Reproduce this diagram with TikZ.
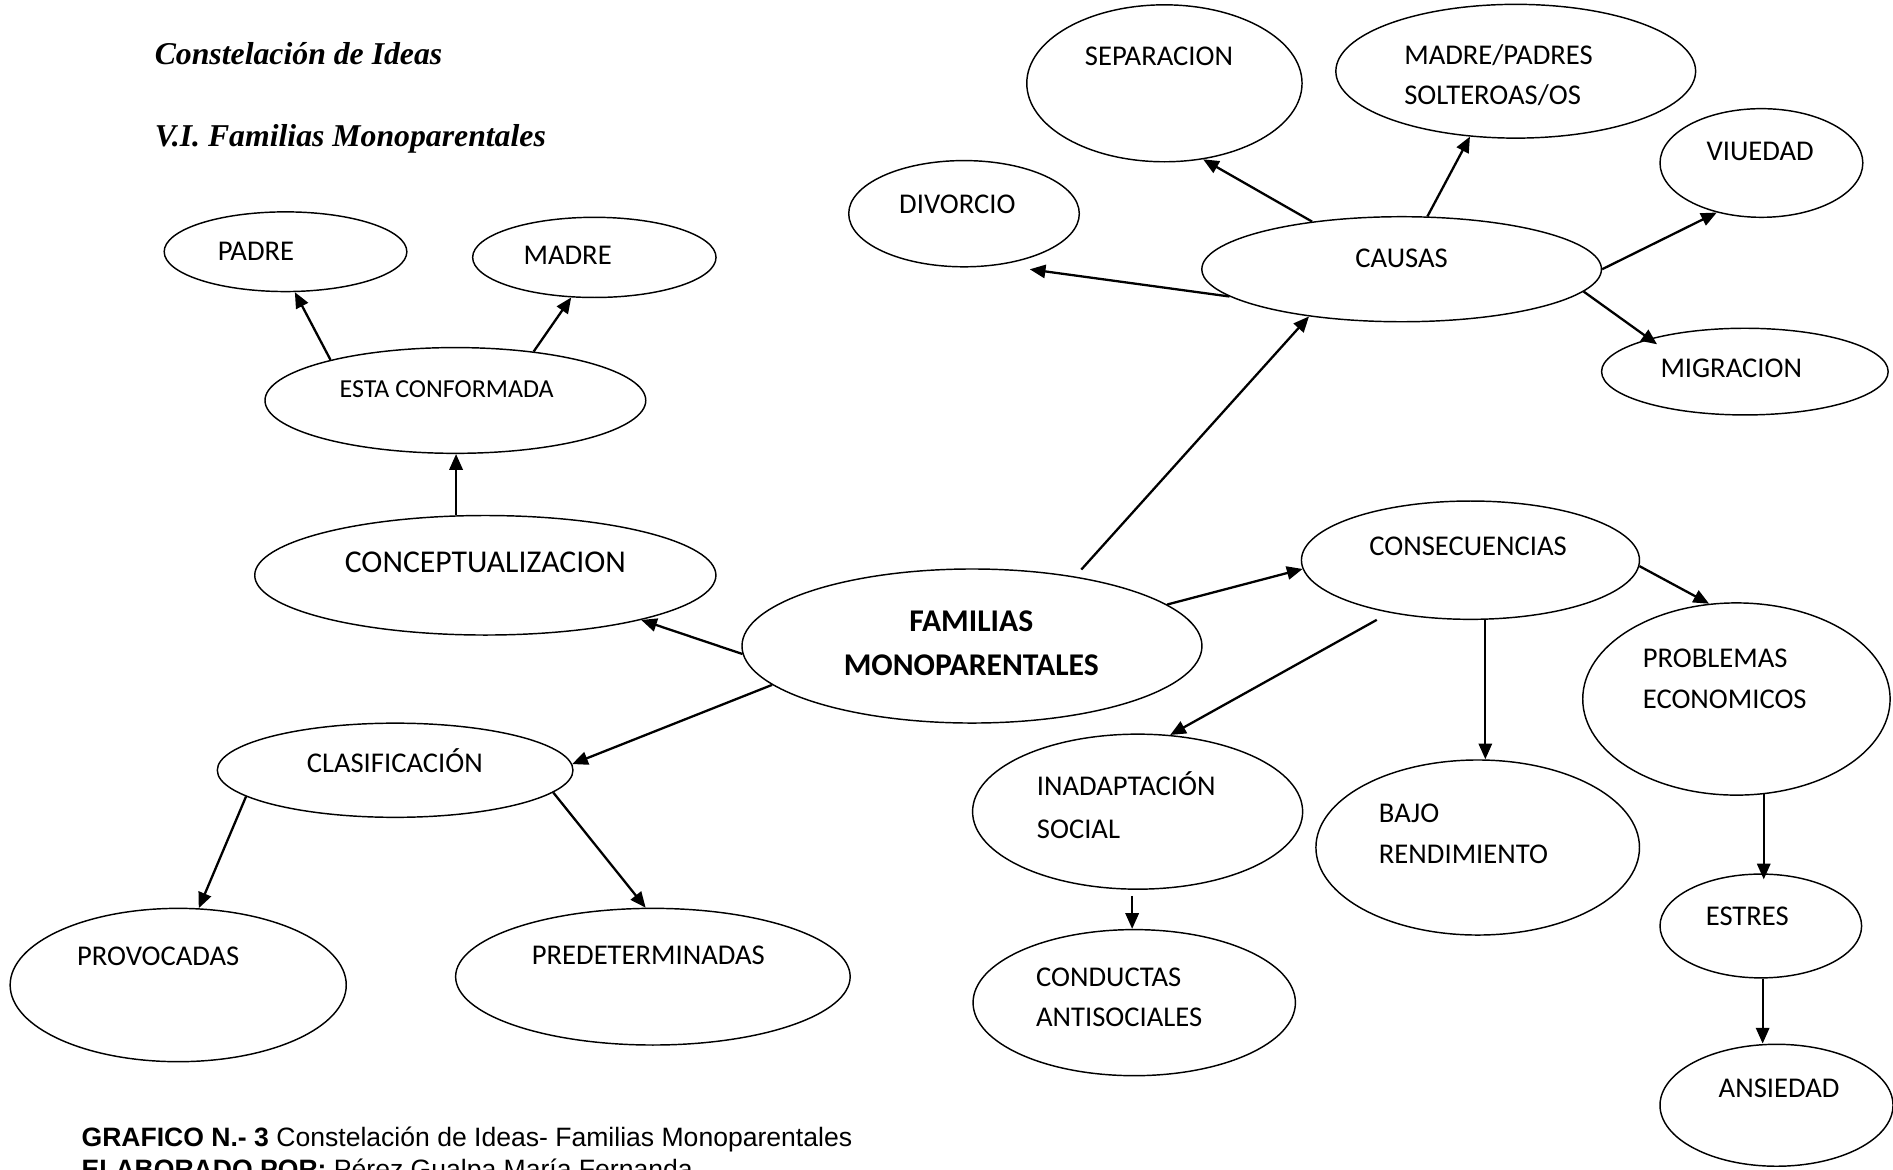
\documentclass[tikz,border=0pt]{standalone}
\usepackage{fontspec}
\setmainfont{Carlito}
\newfontfamily\titlefont{Liberation Serif}
\newfontfamily\capfont{Liberation Sans}
\usetikzlibrary{shapes.geometric,arrows.meta}
\begin{document}
\begin{tikzpicture}[x=1pt,y=-1pt,
  ell/.style={draw, ellipse, line width=1.2pt, inner sep=0pt},
  arr/.style={line width=1.9pt, -{Triangle[length=13pt,width=11pt]}},
  lbl/.style={inner sep=0pt, anchor=base, font=\fontsize{23.7}{34.5}\selectfont},
  lbll/.style={lbl, anchor=base west, align=left}]
\fill[white] (0,0) rectangle (1568,969);
\path[use as bounding box] (0,0) rectangle (1568,969);

% titles
\node[anchor=base west, inner sep=0pt, font=\titlefont\bfseries\itshape\fontsize{26.3}{30}\selectfont] (title1) at (128,53.5) {Constelación de Ideas};
\node[anchor=base west, inner sep=0pt, font=\titlefont\bfseries\itshape\fontsize{26.3}{30}\selectfont] (title2) at (128,121) {V.I. Familias Monoparentales};

% ellipses
\node[ell, minimum width=228pt, minimum height=130pt] (sep) at (964.5,69) {};
\node[ell, minimum width=298pt, minimum height=110.8pt] (mp) at (1255.5,59) {};
\node[ell, minimum width=168pt, minimum height=90pt] (viu) at (1459,135) {};
\node[ell, minimum width=191pt, minimum height=88pt] (div) at (798.5,177) {};
\node[ell, minimum width=331pt, minimum height=87pt] (causas) at (1161,223) {};
\node[ell, minimum width=237.4pt, minimum height=71.8pt] (mig) at (1445.3,307.8) {};
\node[ell, minimum width=201pt, minimum height=66pt] (padre) at (236.5,208.5) {};
\node[ell, minimum width=201.6pt, minimum height=66.4pt] (madre) at (492.3,213.2) {};
\node[ell, minimum width=315.4pt, minimum height=87.6pt] (esta) at (377.2,331.7) {};
\node[ell, minimum width=382pt, minimum height=99pt] (concept) at (402,476.5) {};
\node[ell, minimum width=381pt, minimum height=127.6pt] (fam) at (805.1,535.1) {};
\node[ell, minimum width=280pt, minimum height=98pt] (consec) at (1218,464) {};
\node[ell, minimum width=294.6pt, minimum height=78pt] (clasif) at (327.3,638) {};
\node[ell, minimum width=254.6pt, minimum height=159.2pt] (prob) at (1438.3,579) {};
\node[ell, minimum width=273.4pt, minimum height=128.4pt] (inad) at (942.3,672.3) {};
\node[ell, minimum width=268pt, minimum height=145pt] (bajo) at (1224,702) {};
\node[ell, minimum width=278.4pt, minimum height=127pt] (prov) at (147.6,815.9) {};
\node[ell, minimum width=326.8pt, minimum height=113.2pt] (pred) at (540.8,809) {};
\node[ell, minimum width=167pt, minimum height=86pt] (estres) at (1458.5,767) {};
\node[ell, minimum width=267pt, minimum height=121pt] (cond) at (939.5,830.5) {};
\node[ell, minimum width=193pt, minimum height=101pt] (ans) at (1471.5,915.5) {};

% labels (multi-line nodes: base = last line's baseline)
\node[lbl] (sepT) at (960,54.5) {SEPARACION};
\node[lbll, font=\fontsize{23.7}{33.1}\selectfont] (mpT) at (1163,86.2) {MADRE/PADRES\\SOLTEROAS/OS};
\node[lbl] (viuT) at (1458,133.1) {VIUEDAD};
\node[lbl] (divT) at (793,176.5) {DIVORCIO};
\node[lbl] (causasT) at (1161,221.5) {CAUSAS};
\node[lbl] (migT) at (1434,312.5) {MIGRACION};
\node[lbl] (padreT) at (212,215.5) {PADRE};
\node[lbl] (madreT) at (470.2,218.7) {MADRE};
\node[lbl, font=\fontsize{21.5}{26}\selectfont] (estaT) at (370,329.3) {ESTA CONFORMADA};
\node[lbl, font=\fontsize{26.3}{30}\selectfont] (conceptT) at (402,474.3) {CONCEPTUALIZACION};
\node[lbl, align=center, font=\bfseries\fontsize{26.2}{37.2}\selectfont] (famT) at (804.5,559.9) {FAMILIAS\\MONOPARENTALES};
\node[lbl] (consecT) at (1216,460.3) {CONSECUENCIAS};
\node[lbl] (clasifT) at (327,639.5) {CLASIFICACIÓN};
\node[lbll, font=\fontsize{23.7}{34.3}\selectfont] (probT) at (1360.6,587.1) {PROBLEMAS\\ECONOMICOS};
\node[lbll, font=\fontsize{23.7}{35.4}\selectfont] (inadT) at (858.7,694.5) {INADAPTACIÓN\\SOCIAL};
\node[lbll, font=\fontsize{23.7}{34}\selectfont] (bajoT) at (1142,715.5) {BAJO\\RENDIMIENTO};
\node[lbl] (provT) at (131,799.9) {PROVOCADAS};
\node[lbl] (predT) at (537,798.5) {PREDETERMINADAS};
\node[lbl] (estresT) at (1447.3,766.2) {ESTRES};
\node[lbll, font=\fontsize{23.7}{33}\selectfont] (condT) at (858,850.5) {CONDUCTAS\\ANTISOCIALES};
\node[lbl] (ansT) at (1473.6,909.1) {ANSIEDAD};

% arrows
\draw[arr] (causas.152) -- (sep.-63.5);
\draw[arr] (causas.64.9) -- (mp.-125.6);
\draw[arr] (causas.0) -- (viu.-132.7);
\draw[arr, shorten >=26pt] (causas.-171.9) -- (div.-56.75);
\draw[arr, shorten >=-8pt] (causas.-7.6) -- (mig.161.6);
\draw[arr, shorten <=7.7pt] (fam.34.7) -- (causas.-153.7);
\draw[arr] (esta.162) -- (padre.-77.7);
\draw[arr] (esta.32.9) -- (madre.-120.8);
\draw[arr] (concept.116.1) -- (concept.116.1 |- esta.south);
\draw[arr] (fam.-178.6) -- (concept.-16.4);
\draw[arr] (fam.12.4) -- (consec.-177.9);
\draw[arr] (fam.-169.25) -- (clasif.2.6);
\draw[arr] (consec.-2.9) -- (prob.106);
\draw[arr, shorten <=12pt] (consec.-147.3) -- (inad.67.75);
\draw[arr] (consec.-76.2) -- (consec.-76.2 |- bajo.north);
\draw[arr] (clasif.-170) -- (prov.75.1);
\draw[arr] (clasif.-8.57) -- (pred.96.7);
\draw[arr, shorten >=-5pt] (prob.-74.75) -- (prob.-74.75 |- estres.north);
\draw[arr, shorten <=5pt] (inad.-94.4) -- (inad.-94.4 |- cond.north);
\draw[arr] (estres.-88.4) -- (estres.-88.4 |- ans.north);

% caption (second line runs off the bottom edge, as in the reference)
\node[anchor=base west, inner sep=0pt, align=left, font=\capfont\fontsize{22}{26}\selectfont] (caption) at (67.4,975.8)
  {\textbf{GRAFICO N.- 3} Constelación de Ideas- Familias Monoparentales\\\textbf{ELABORADO POR:} Pérez Gualpa María Fernanda};
\end{tikzpicture}
\end{document}
